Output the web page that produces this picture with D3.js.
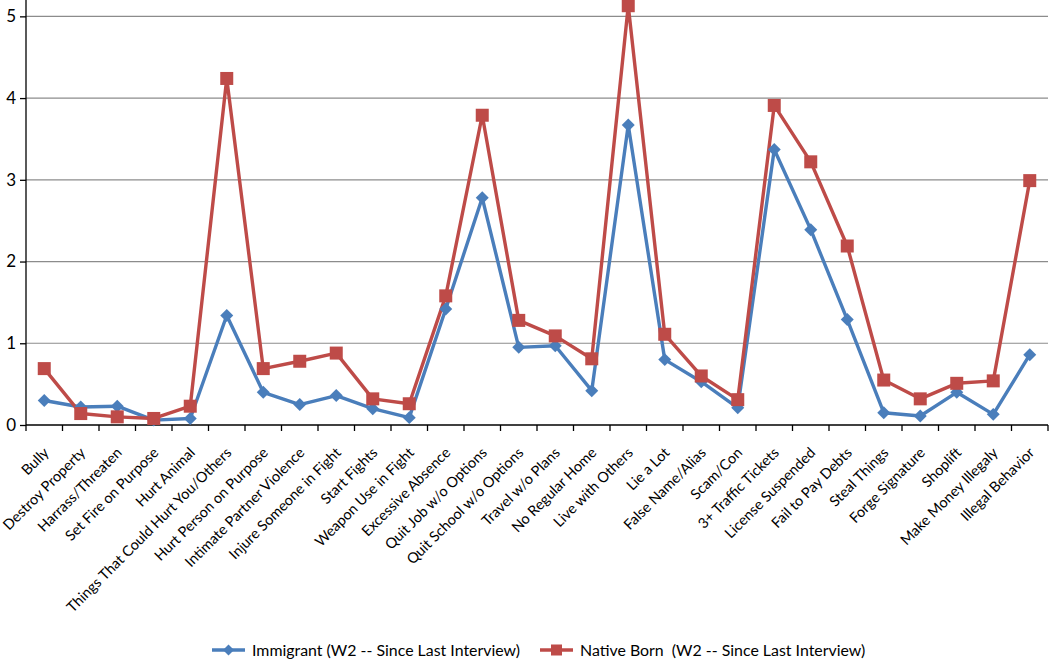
<!DOCTYPE html>
<html><head><meta charset="utf-8">
<script src="https://cdn.jsdelivr.net/npm/d3@7"></script>
<style>
html,body{margin:0;padding:0;background:#fff;}
svg{display:block;}
text{font-family:Lato,"Open Sans",sans-serif;fill:#000;}
</style></head>
<body><svg id="c" width="1050" height="659"></svg>
<script>
const categories = ["Bully","Destroy Property","Harrass/Threaten","Set Fire on Purpose","Hurt Animal","Things That Could Hurt You/Others","Hurt Person on Purpose","Intimate Partner Violence","Injure Someone in Fight","Start Fights","Weapon Use in Fight","Excessive Absence","Quit Job w/o Options","Quit School w/o Options","Travel w/o Plans","No Regular Home","Live with Others","Lie a Lot","False Name/Alias","Scam/Con","3+ Traffic Tickets","License Suspended","Fail to Pay Debts","Steal Things","Forge Signature","Shoplift","Make Money Illegaly","Illegal Behavior"];
const immigrant = [0.30,0.22,0.23,0.06,0.08,1.34,0.40,0.25,0.36,0.20,0.09,1.42,2.78,0.95,0.97,0.42,3.67,0.80,0.53,0.21,3.37,2.39,1.29,0.15,0.11,0.40,0.13,0.86];
const nativeBorn = [0.69,0.14,0.10,0.08,0.23,4.24,0.69,0.78,0.88,0.32,0.26,1.58,3.79,1.28,1.09,0.81,5.13,1.11,0.60,0.31,3.91,3.22,2.19,0.55,0.32,0.51,0.54,2.99];
const yTicks = [0,1,2,3,4,5];
const seriesNames = ["Immigrant (W2 -- Since Last Interview)","Native Born  (W2 -- Since Last Interview)"];
const colors = ["#4A7EBB","#BE4B48"];

const svg = d3.select("#c");
const pL = 26, pR = 1048, pT = 0, pB = 425;
const x = d3.scaleBand().domain(categories).range([pL,pR]);
const y = d3.scaleLinear().domain([0,5.2]).range([pB,pT]);
const cx = i => x(categories[i]) + x.bandwidth()/2;

// gridlines
svg.append("g").selectAll("line").data(yTicks.filter(d=>d>0)).join("line")
  .attr("x1",pL).attr("x2",pR).attr("y1",d=>y(d)).attr("y2",d=>y(d))
  .attr("stroke","#8c8c8c").attr("stroke-width",1.2);

// y axis
const ya = svg.append("g").attr("transform",`translate(${pL},0)`)
  .call(d3.axisLeft(y).tickValues(yTicks).tickSize(6).tickFormat(d3.format("d")));
ya.select(".domain").attr("d",`M0,${pT}V${pB}`).attr("stroke","#000").attr("stroke-width",1.3);
ya.selectAll(".tick line").attr("stroke","#000").attr("stroke-width",1.3);
ya.selectAll(".tick text").attr("x",-10).attr("font-size",17).attr("font-family","Lato,'Open Sans',sans-serif");

// x axis
const xa = svg.append("g").attr("transform",`translate(0,${pB})`)
  .call(d3.axisBottom(x).tickSize(0).tickFormat(""));
xa.select(".domain").attr("d",`M${pL},0H${pR}`).attr("stroke","#000").attr("stroke-width",1.3);
xa.selectAll(".tick").remove();
const bounds = categories.map(c=>x(c)).concat([pR]);
xa.append("g").selectAll("line").data(bounds).join("line")
  .attr("x1",d=>d).attr("x2",d=>d).attr("y1",0).attr("y2",6).attr("stroke","#000").attr("stroke-width",1.3);
xa.append("g").selectAll("text").data(categories).join("text")
  .attr("transform",(d,i)=>`translate(${cx(i)+2},25) rotate(-45)`)
  .attr("text-anchor","end").attr("dy","0.35em")
  .attr("font-size",14.5).text(d=>d);

// lines
const line = d3.line().x((d,i)=>cx(i)).y(d=>y(d));
[immigrant,nativeBorn].forEach((s,k)=>{
  svg.append("path").datum(s).attr("d",line).attr("fill","none")
    .attr("stroke",colors[k]).attr("stroke-width",3.4).attr("stroke-linejoin","round");
});
// markers
svg.append("g").selectAll("path").data(immigrant).join("path")
  .attr("d",d3.symbol(d3.symbolSquare,84)())
  .attr("transform",(d,i)=>`translate(${cx(i)},${y(d)}) rotate(45)`)
  .attr("fill",colors[0]);
svg.append("g").selectAll("rect").data(nativeBorn).join("rect")
  .attr("x",(d,i)=>cx(i)-6.5).attr("y",d=>y(d)-6.5)
  .attr("width",13).attr("height",13).attr("fill",colors[1]);

// legend
const lg = svg.append("g").attr("transform","translate(0,650)");
const items = [{x:212,w:33,tx:252},{x:540,w:33,tx:580}];
items.forEach((it,k)=>{
  lg.append("line").attr("x1",it.x).attr("x2",it.x+it.w).attr("y1",0).attr("y2",0)
    .attr("stroke",colors[k]).attr("stroke-width",3.4);
  if(k===0){
    lg.append("path").attr("d",d3.symbol(d3.symbolSquare,60)())
      .attr("transform",`translate(${it.x+it.w/2},0) rotate(45)`).attr("fill",colors[k]);
  } else {
    lg.append("rect").attr("x",it.x+it.w/2-5.5).attr("y",-5.5).attr("width",11).attr("height",11).attr("fill",colors[k]);
  }
  lg.append("text").attr("x",it.tx).attr("y",0).attr("dy","0.35em").attr("font-size",15.9)
    .style("white-space","pre").text(seriesNames[k]);
});
</script></body></html>
